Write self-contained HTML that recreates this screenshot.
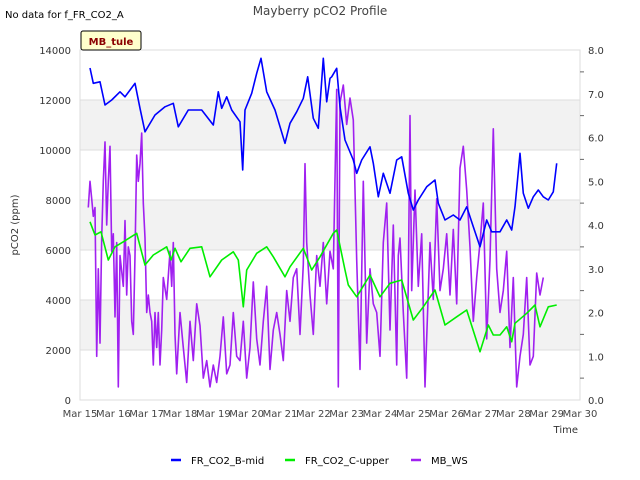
<!DOCTYPE html>
<html><head><meta charset="utf-8"><style>
body{margin:0;background:#fff;}
svg{display:block;font-family:"DejaVu Sans","Liberation Sans",sans-serif;}
</style></head><body>
<svg id="chart" width="640" height="480" viewBox="0 0 640 480">
<text x="5" y="18" font-size="10" fill="#000">No data for f_FR_CO2_A</text>
<text x="320" y="15" font-size="12" fill="#444" text-anchor="middle">Mayberry pCO2 Profile</text>
<g id="bands"></g>
<g id="grid"></g>
<g id="series"></g>
<rect x="80" y="50" width="500" height="350" fill="none" stroke="#ddd"/>
<g id="axes"></g>
<rect x="81" y="31" width="60" height="19" fill="#ffffcc" stroke="#000" stroke-width="1" rx="2"/>
<text x="111" y="45" font-size="10" font-weight="bold" fill="#8b0000" text-anchor="middle">MB_tule</text>
<text transform="translate(18,225) rotate(-90)" font-size="10" fill="#333" text-anchor="middle">pCO2 (ppm)</text>
<text x="578" y="433" font-size="10" fill="#333" text-anchor="end">Time</text>
<g>
<line x1="171" y1="460" x2="181" y2="460" stroke="#0000ff" stroke-width="2.5"/>
<text x="191" y="464" font-size="10" fill="#000">FR_CO2_B-mid</text>
<line x1="285" y1="460" x2="295" y2="460" stroke="#00ee00" stroke-width="2.5"/>
<text x="305" y="464" font-size="10" fill="#000">FR_CO2_C-upper</text>
<line x1="411" y1="460" x2="421" y2="460" stroke="#a020f0" stroke-width="2.5"/>
<text x="431" y="464" font-size="10" fill="#000">MB_WS</text>
</g>
</svg>
<script>
const xTickLabels = ["Mar 15","Mar 16","Mar 17","Mar 18","Mar 19","Mar 20","Mar 21","Mar 22","Mar 23","Mar 24","Mar 25","Mar 26","Mar 27","Mar 28","Mar 29","Mar 30"];
const leftTicks = [0,2000,4000,6000,8000,10000,12000,14000];
const rightTicks = [0,1,2,3,4,5,6,7,8];
const bMidDays = [0.3,0.4,0.6,0.75,0.95,1.2,1.35,1.65,1.8,1.95,2.25,2.55,2.8,2.95,3.25,3.65,4.0,4.15,4.25,4.4,4.55,4.8,4.88,4.95,5.15,5.3,5.43,5.6,5.85,6.15,6.3,6.5,6.7,6.83,7.0,7.15,7.3,7.4,7.5,7.55,7.7,7.8,7.95,8.2,8.3,8.45,8.7,8.8,8.95,9.1,9.3,9.5,9.65,9.85,10.0,10.15,10.4,10.65,10.75,10.95,11.2,11.4,11.6,11.8,12.0,12.2,12.35,12.6,12.8,12.95,13.05,13.2,13.3,13.45,13.6,13.75,13.9,14.05,14.2,14.3];
const bMidValues = [13280,12670,12730,11800,12000,12330,12130,12670,11670,10730,11400,11730,11870,10930,11600,11600,11000,12330,11670,12130,11600,11130,9200,11600,12270,13070,13670,12330,11600,10270,11070,11530,12070,12930,11270,10870,13670,11930,12870,12930,13270,11730,10400,9600,9070,9600,10130,9470,8130,9070,8270,9600,9730,8270,7600,8000,8530,8800,7870,7200,7400,7200,7730,6930,6130,7200,6730,6730,7200,6800,7730,9870,8270,7670,8130,8400,8130,8000,8330,9470];
const cUpperDays = [0.3,0.45,0.63,0.85,1.05,1.3,1.7,1.95,2.2,2.6,2.73,2.85,3.03,3.3,3.65,3.9,4.25,4.6,4.75,4.9,5.0,5.3,5.6,5.8,6.15,6.3,6.7,6.95,7.2,7.6,7.7,7.95,8.05,8.3,8.7,9.0,9.3,9.65,10.0,10.3,10.65,10.95,11.3,11.6,12.0,12.25,12.4,12.6,12.8,12.95,13.05,13.4,13.65,13.8,14.05,14.3];
const cUpperValues = [7130,6600,6730,5600,6130,6330,6670,5400,5800,6130,5600,6070,5530,6070,6130,4930,5600,5930,5600,3730,5200,5870,6130,5730,4930,5330,6070,5200,5730,6670,6800,5200,4600,4130,5000,4130,4670,4800,3200,3730,4400,3000,3330,3600,1930,3000,2600,2600,2930,2330,3070,3470,3800,2930,3730,3800];
const wsDays = [0.25,0.3,0.35,0.4,0.45,0.5,0.55,0.6,0.65,0.7,0.75,0.8,0.85,0.9,0.95,1.0,1.05,1.1,1.15,1.2,1.3,1.35,1.4,1.45,1.5,1.55,1.6,1.65,1.7,1.75,1.8,1.85,1.9,1.95,2.0,2.05,2.1,2.15,2.2,2.25,2.3,2.35,2.4,2.45,2.5,2.6,2.7,2.75,2.8,2.85,2.9,3.0,3.1,3.2,3.3,3.4,3.5,3.6,3.7,3.8,3.9,4.0,4.1,4.2,4.3,4.4,4.5,4.6,4.7,4.8,4.9,5.0,5.1,5.2,5.3,5.4,5.5,5.6,5.7,5.8,5.9,6.0,6.1,6.2,6.3,6.4,6.5,6.6,6.7,6.75,6.8,6.9,7.0,7.1,7.2,7.3,7.4,7.5,7.6,7.7,7.75,7.8,7.9,8.0,8.1,8.2,8.3,8.4,8.5,8.6,8.7,8.8,8.9,9.0,9.1,9.2,9.3,9.4,9.5,9.55,9.6,9.7,9.8,9.85,9.9,9.95,10.05,10.15,10.25,10.35,10.5,10.6,10.7,10.8,10.9,11.0,11.1,11.2,11.3,11.4,11.5,11.6,11.7,11.8,11.9,12.0,12.1,12.2,12.3,12.4,12.5,12.6,12.7,12.8,12.9,13.0,13.1,13.2,13.3,13.4,13.5,13.6,13.7,13.8,13.9,14.0,14.1,14.2,14.3];
const wsValues = [4.4,5.0,4.6,4.2,4.4,1.0,3.0,1.3,3.7,5.0,5.9,4.0,5.0,5.8,3.4,3.8,1.9,3.6,0.3,3.3,2.6,4.1,2.4,3.5,3.3,1.8,1.5,3.3,5.6,5.0,5.4,6.1,4.5,3.7,2.0,2.4,2.0,1.8,0.8,2.0,1.2,2.0,0.8,1.6,2.8,2.3,3.4,2.6,3.6,1.5,0.6,2.0,1.2,0.4,1.8,0.9,2.2,1.7,0.5,0.9,0.3,0.8,0.4,1.0,1.9,0.6,0.8,2.0,1.0,0.9,1.8,0.5,1.2,2.7,1.4,0.8,1.8,2.6,0.7,1.6,2.0,1.5,0.9,2.5,1.8,2.8,3.0,1.5,3.1,5.4,3.6,2.4,1.5,3.3,2.6,3.6,2.2,3.4,3.0,7.1,0.3,6.8,7.2,6.3,6.9,6.4,3.2,0.7,5.0,1.3,3.0,2.2,2.0,1.0,3.6,4.5,1.6,4.0,0.8,3.3,3.7,2.0,0.5,2.7,6.5,2.5,4.8,2.6,3.8,0.3,3.6,2.3,4.6,2.5,3.0,3.8,2.4,3.9,2.2,5.3,5.8,4.8,3.5,1.8,2.8,3.6,4.5,1.4,3.2,6.2,3.0,2.0,2.5,3.4,1.2,2.8,0.3,1.0,1.5,2.8,0.8,1.0,2.9,2.4,2.8];

const NS="http://www.w3.org/2000/svg";
const X0=80,X1=580,Y0=400,Y1=50;
function xDay(d){return X0+(X1-X0)*d/15;}
function yLeft(v){return Y0-(Y0-Y1)*v/14000;}
function yRight(v){return Y0-(Y0-Y1)*v/8;}
function mk(tag,attrs,parent){const e=document.createElementNS(NS,tag);for(const k in attrs)e.setAttribute(k,attrs[k]);parent.appendChild(e);return e;}
const bands=document.getElementById('bands'),grid=document.getElementById('grid'),axes=document.getElementById('axes'),series=document.getElementById('series');
for(let i=0;i<leftTicks.length-1;i++){
  if(i%2===1){const r=mk('rect',{x:X0,y:yLeft(leftTicks[i+1]),width:X1-X0,height:yLeft(leftTicks[i])-yLeft(leftTicks[i+1]),fill:'#f2f2f2'},bands);
  
  }
}
leftTicks.forEach(v=>{
  const l=mk('line',{x1:X0,x2:X1,y1:yLeft(v),y2:yLeft(v),stroke:'#ddd'},grid);
  
  
  const t=mk('text',{x:X0-9,y:yLeft(v)+4,'font-size':10,fill:'#333','text-anchor':'end'},axes);
  t.textContent=v;
  
  
});
rightTicks.forEach(v=>{
  const t=mk('text',{x:X1+8,y:yRight(v)+4,'font-size':10,fill:'#333'},axes);
  t.textContent=v.toFixed(1);
  
  
  if(v<8){const m=mk('line',{x1:X1,x2:X1+4,y1:yRight(v+0.5),y2:yRight(v+0.5),stroke:'#666'},axes);
  
  }
});
xTickLabels.forEach((s,i)=>{
  const t=mk('text',{x:xDay(i),y:417,'font-size':10,fill:'#444','text-anchor':'middle'},axes);
  t.textContent=s;
  
  
});
function line(days,vals,yf,color,name){
  const p=days.map((d,i)=>xDay(d).toFixed(1)+','+yf(vals[i]).toFixed(1)).join(' ');
  const e=mk('polyline',{points:p,fill:'none',stroke:color,'stroke-width':1.6,'stroke-linejoin':'round'},series);
  
  
}
line(wsDays,wsValues,yRight,'#a020f0','mb-ws-line');
line(cUpperDays,cUpperValues,yLeft,'#00ee00','fr-co2-c-upper-line');
line(bMidDays,bMidValues,yLeft,'#0000ff','fr-co2-b-mid-line');
</script>
</body></html>
